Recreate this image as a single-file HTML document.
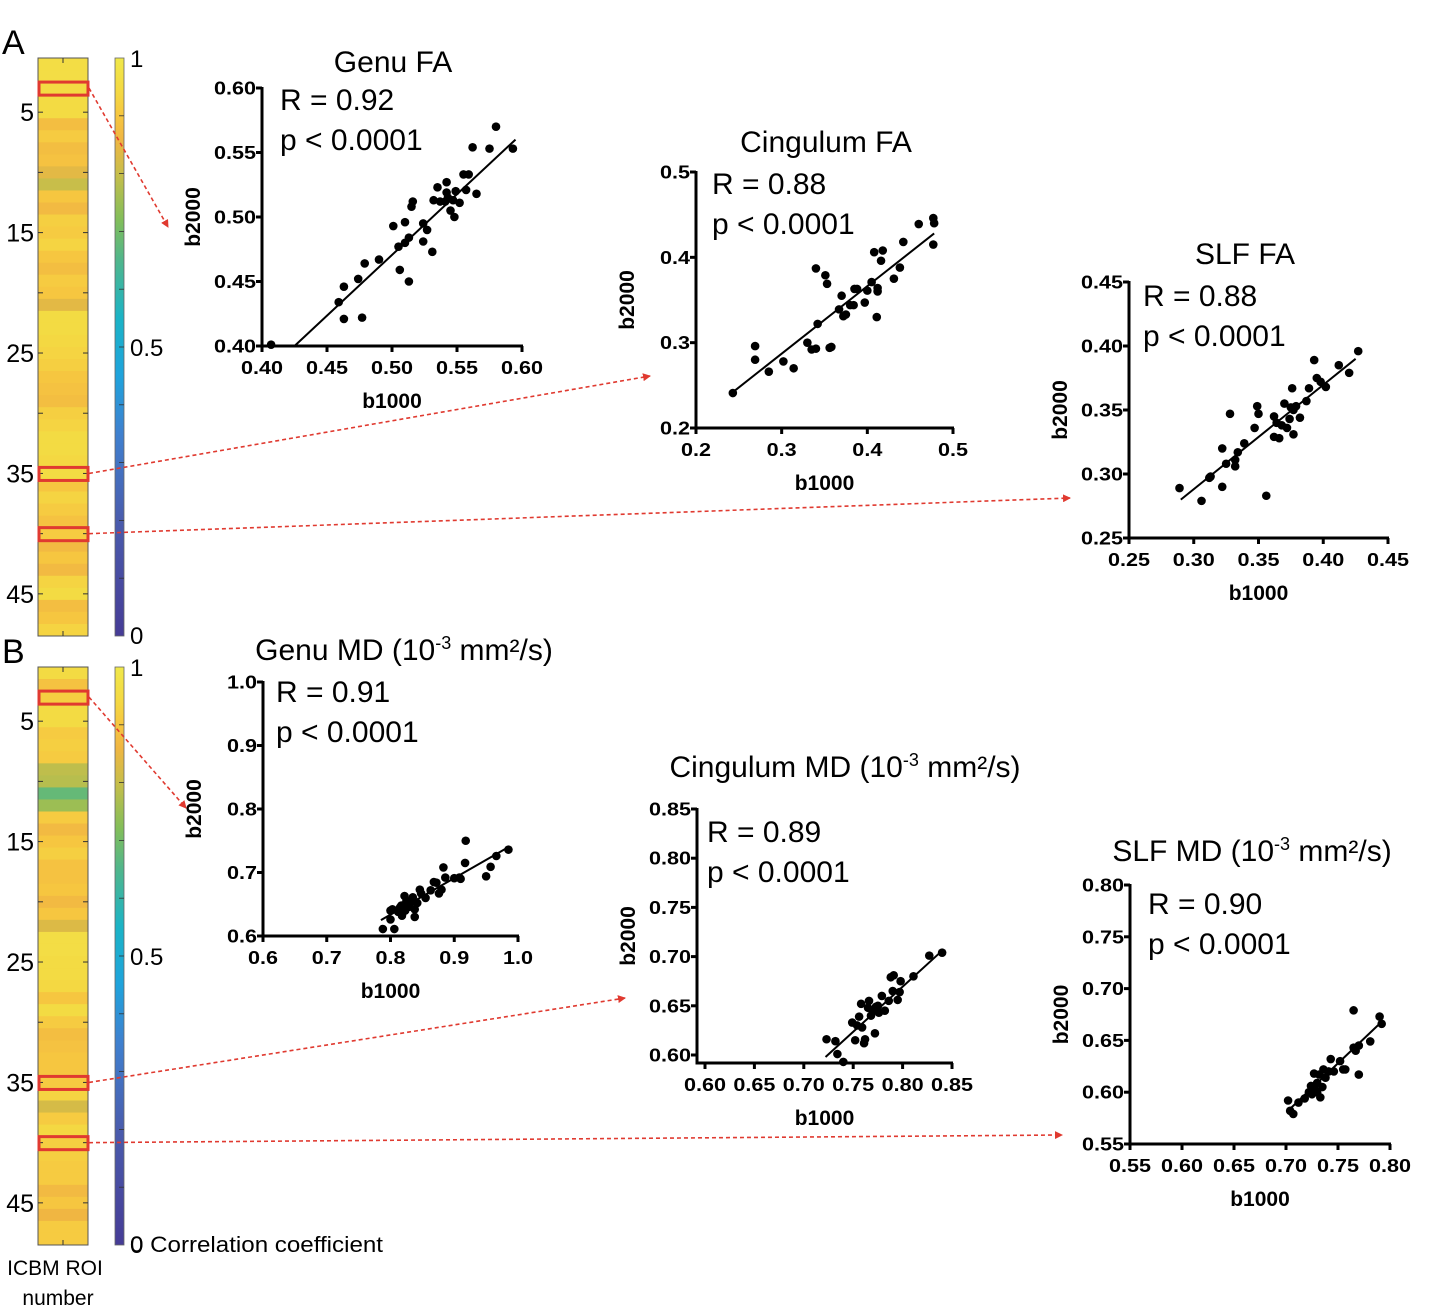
<!DOCTYPE html>
<html><head><meta charset="utf-8"><style>
html,body{margin:0;padding:0;background:#fff;}
svg{display:block;font-family:"Liberation Sans",sans-serif;}
</style></head><body>
<svg id="fig" width="1438" height="1312" viewBox="0 0 1438 1312" xmlns="http://www.w3.org/2000/svg"></svg>
<script>
// ---- heatmap data (correlation coefficient per ICBM ROI) ----
const roiA = [0.96,0.96,0.95,0.95,0.95,0.88,0.91,0.88,0.89,0.84,0.80,0.90,0.87,0.92,0.91,0.93,0.90,0.88,0.91,0.90,0.84,0.95,0.95,0.94,0.93,0.92,0.90,0.89,0.88,0.92,0.93,0.95,0.95,0.94,0.95,0.90,0.93,0.91,0.89,0.91,0.87,0.90,0.87,0.93,0.95,0.88,0.90,0.93];
const roiB = [0.95,0.89,0.92,0.95,0.95,0.91,0.92,0.91,0.79,0.78,0.68,0.75,0.91,0.87,0.90,0.92,0.89,0.89,0.90,0.87,0.90,0.83,0.96,0.96,0.95,0.95,0.94,0.90,0.95,0.91,0.88,0.89,0.90,0.90,0.91,0.93,0.82,0.91,0.94,0.92,0.92,0.91,0.91,0.87,0.90,0.86,0.91,0.91];
const roiTickLabels = ["5","15","25","35","45"];
const cbarTickLabels = ["1","0.5","0"];

// ---- scatter data ----
const genuFAx = [0.407,0.459,0.463,0.463,0.474,0.477,0.479,0.490,0.501,0.505,0.506,0.510,0.510,0.513,0.513,0.515,0.516,0.524,0.524,0.527,0.531,0.532,0.535,0.537,0.541,0.542,0.542,0.543,0.545,0.547,0.548,0.549,0.552,0.555,0.557,0.559,0.562,0.565,0.575,0.580,0.593];
const genuFAy = [0.401,0.434,0.446,0.421,0.452,0.422,0.464,0.467,0.493,0.477,0.459,0.496,0.480,0.484,0.450,0.508,0.512,0.495,0.481,0.490,0.473,0.513,0.523,0.512,0.512,0.527,0.519,0.515,0.505,0.513,0.500,0.520,0.511,0.533,0.521,0.533,0.554,0.518,0.553,0.570,0.553];
const cingFAx = [0.243,0.269,0.269,0.285,0.302,0.314,0.330,0.335,0.340,0.340,0.342,0.351,0.353,0.356,0.358,0.370,0.372,0.375,0.367,0.380,0.384,0.385,0.388,0.397,0.400,0.405,0.408,0.411,0.412,0.412,0.416,0.418,0.431,0.438,0.442,0.460,0.477,0.478,0.477];
const cingFAy = [0.241,0.296,0.280,0.266,0.278,0.270,0.300,0.292,0.293,0.387,0.322,0.379,0.369,0.294,0.295,0.355,0.331,0.333,0.339,0.344,0.344,0.363,0.363,0.347,0.361,0.371,0.406,0.330,0.360,0.364,0.396,0.408,0.375,0.388,0.418,0.439,0.446,0.440,0.415];
const slfFAx = [0.289,0.306,0.312,0.313,0.322,0.322,0.325,0.328,0.332,0.332,0.334,0.339,0.347,0.349,0.350,0.356,0.362,0.362,0.364,0.366,0.368,0.370,0.372,0.374,0.375,0.376,0.377,0.377,0.379,0.382,0.387,0.389,0.393,0.395,0.398,0.402,0.412,0.420,0.427];
const slfFAy = [0.289,0.279,0.297,0.298,0.320,0.290,0.308,0.347,0.311,0.306,0.317,0.324,0.336,0.353,0.347,0.283,0.345,0.329,0.340,0.328,0.338,0.355,0.336,0.343,0.352,0.367,0.331,0.350,0.353,0.344,0.357,0.367,0.389,0.375,0.372,0.368,0.385,0.379,0.396];
const genuMDx = [0.788,0.800,0.800,0.803,0.806,0.812,0.817,0.818,0.822,0.823,0.825,0.829,0.835,0.838,0.838,0.846,0.848,0.855,0.868,0.872,0.876,0.880,0.883,0.886,0.900,0.908,0.910,0.917,0.918,0.950,0.957,0.966,0.985,0.830,0.815,0.842,0.863];
const genuMDy = [0.611,0.626,0.640,0.642,0.611,0.638,0.648,0.632,0.663,0.640,0.655,0.646,0.661,0.630,0.642,0.673,0.667,0.660,0.685,0.684,0.667,0.673,0.708,0.692,0.691,0.692,0.690,0.715,0.750,0.694,0.709,0.726,0.736,0.650,0.645,0.652,0.672];
const cingMDx = [0.723,0.732,0.734,0.740,0.749,0.752,0.754,0.756,0.758,0.759,0.761,0.762,0.766,0.768,0.770,0.772,0.773,0.776,0.779,0.782,0.786,0.788,0.790,0.791,0.795,0.797,0.798,0.811,0.827,0.840,0.775,0.765];
const cingMDy = [0.616,0.614,0.601,0.593,0.633,0.615,0.630,0.639,0.652,0.628,0.612,0.616,0.655,0.640,0.645,0.622,0.649,0.643,0.660,0.645,0.655,0.679,0.665,0.681,0.656,0.664,0.675,0.680,0.701,0.704,0.650,0.648];
const slfMDx = [0.702,0.704,0.707,0.712,0.718,0.722,0.724,0.727,0.728,0.730,0.732,0.733,0.735,0.736,0.738,0.741,0.743,0.746,0.752,0.755,0.757,0.765,0.765,0.767,0.770,0.770,0.781,0.790,0.792,0.730,0.725];
const slfMDy = [0.592,0.582,0.579,0.590,0.594,0.600,0.606,0.618,0.602,0.609,0.617,0.595,0.605,0.622,0.614,0.620,0.632,0.620,0.630,0.622,0.622,0.679,0.643,0.640,0.617,0.645,0.649,0.673,0.666,0.600,0.598];
// fit-line endpoints [x0,y0,x1,y1]
const genuFAfit = [0.425,0.40,0.595,0.56];
const cingFAfit = [0.243,0.242,0.478,0.428];
const slfFAfit = [0.29,0.28,0.425,0.39];
const genuMDfit = [0.785,0.625,0.985,0.74];
const cingMDfit = [0.722,0.598,0.84,0.706];
const slfMDfit = [0.705,0.585,0.792,0.668];
const genuFAxt=["0.40","0.45","0.50","0.55","0.60"], genuFAyt=["0.40","0.45","0.50","0.55","0.60"];
const cingFAxt=["0.2","0.3","0.4","0.5"], cingFAyt=["0.2","0.3","0.4","0.5"];
const slfFAxt=["0.25","0.30","0.35","0.40","0.45"], slfFAyt=["0.25","0.30","0.35","0.40","0.45"];
const genuMDxt=["0.6","0.7","0.8","0.9","1.0"], genuMDyt=["0.6","0.7","0.8","0.9","1.0"];
const cingMDxt=["0.60","0.65","0.70","0.75","0.80","0.85"], cingMDyt=["0.60","0.65","0.70","0.75","0.80","0.85"];
const slfMDxt=["0.55","0.60","0.65","0.70","0.75","0.80"], slfMDyt=["0.55","0.60","0.65","0.70","0.75","0.80"];

const NS="http://www.w3.org/2000/svg";
const svg=document.getElementById('fig');
function el(tag,attrs,parent,text){const e=document.createElementNS(NS,tag);for(const k in attrs)e.setAttribute(k,attrs[k]);if(text!==undefined)e.textContent=text;(parent||svg).appendChild(e);return e;}

const stops=[[0,[70,60,150]],[0.2,[74,92,173]],[0.35,[63,128,207]],[0.45,[31,163,220]],[0.55,[27,179,198]],[0.65,[80,182,140]],[0.72,[130,190,90]],[0.8,[200,190,74]],[0.86,[240,182,66]],[0.9,[246,198,64]],[0.94,[244,216,66]],[1,[240,232,74]]];
function cmap(v){for(let i=1;i<stops.length;i++){if(v<=stops[i][0]){const a=stops[i-1],b=stops[i],t=(v-a[0])/(b[0]-a[0]);return 'rgb('+a[1].map((c,j)=>Math.round(c+(b[1][j]-c)*t)).join(',')+')';}}return 'rgb(240,232,74)';}

const defs=el('defs',{});
const lg=el('linearGradient',{id:'cb',x1:0,y1:1,x2:0,y2:0},defs);
stops.forEach(s=>el('stop',{offset:s[0],'stop-color':cmap(s[0])},lg));
const mk=el('marker',{id:'ah',markerWidth:8,markerHeight:8,refX:7,refY:4,orient:'auto',markerUnits:'userSpaceOnUse'},defs);
el('path',{d:'M0,0 L8,4 L0,8 z',fill:'#e03a30'},mk);

function panel(letter,top,vals,boxRows,arrowTargets,name){
  const g=el('g',{});
  
  
  const x0=38,w=50,h=578,n=vals.length,rh=h/n;
  const L=el('text',{x:2,y:top-4,'font-size':34},g,letter);
  
  
  vals.forEach((v,i)=>{const r=el('rect',{x:x0,y:top+i*rh,width:w,height:rh+0.5,fill:cmap(v)},g);
    
    });
  el('rect',{x:x0,y:top,width:w,height:h,fill:'none',stroke:'#555','stroke-width':1},g);
  roiTickLabels.forEach(t=>{const row=+t;const y=top+(row-0.5)*rh;
    const tx=el('text',{x:34,y:y+9,'font-size':25,'text-anchor':'end'},g,t);
    
    
    el('line',{x1:x0,x2:x0+5,y1:y,y2:y,stroke:'#333'},g);el('line',{x1:x0+w,x2:x0+w-5,y1:y,y2:y,stroke:'#333'},g);});
  [10,20,30,40].forEach(r=>{const y=top+(r-0.5)*rh;el('line',{x1:x0,x2:x0+5,y1:y,y2:y,stroke:'#333'},g);el('line',{x1:x0+w,x2:x0+w-5,y1:y,y2:y,stroke:'#333'},g);});
  el('line',{x1:63,x2:63,y1:top,y2:top+5,stroke:'#333'},g);el('line',{x1:63,x2:63,y1:top+h,y2:top+h-5,stroke:'#333'},g);
  const cb=el('rect',{x:115,y:top,width:9,height:h,fill:'url(#cb)',stroke:'#666','stroke-width':0.8},g);
  
  
  for(let k=1;k<10;k++){const y=top+h*k/10;el('line',{x1:119,x2:124,y1:y,y2:y,stroke:'#333','stroke-width':0.8},g);}
  cbarTickLabels.forEach((t,k)=>{const y=top+h*k/2;const tx=el('text',{x:130,y:y+(k==2?8:9),'font-size':24},g,t);
    
    });
  boxRows.forEach((r,i)=>{const y=top+(r-1)*rh;
    const b=el('rect',{x:39,y:y,width:49,height:rh+1,fill:'none',stroke:'#e03a30','stroke-width':3},g);
    
    
    const t=arrowTargets[i];const sy=y+rh/2;
    const a=el('line',{x1:89,y1:sy,x2:t[0],y2:t[1],stroke:'#e03a30','stroke-width':1.6,'stroke-dasharray':'4,3','marker-end':'url(#ah)'},g);
    
    });
}
panel('A',58,roiA,[3,35,40],[[168,227],[650,376],[1070,498]],'heatmap-panel-a');
panel('B',667,roiB,[3,35,40],[[186,808],[625,998],[1062,1135]],'heatmap-panel-b');

function lab(x,y,size,txt,name,extra){const t=el('text',Object.assign({x:x,y:y,'font-size':size},extra||{}),svg,txt);
  
  return t;}
lab(130,1252,22,'0 Correlation coefficient','colorbar-title',{textLength:253,lengthAdjust:'spacingAndGlyphs'});
lab(55,1275,21,'ICBM ROI','roi-axis-title',{'text-anchor':'middle'});
lab(58,1305,21,'number','roi-axis-title-2',{'text-anchor':'middle'});

function tw(s,fs){let w=0;for(const c of s)w+=(c=='.'?0.278:0.556);return w*fs;}

function scatter(o){
  const g=el('g',{});
  
  
  const sx=v=>o.ax+(v-o.xd[0])/(o.xd[1]-o.xd[0])*(o.axr-o.ax);
  const sy=v=>o.yb+(v-o.yd[0])/(o.yd[1]-o.yd[0])*(o.yt-o.yb);
  const axY=o.axisY||o.yb, axX=o.axisX||o.ax;
  const tt=el('text',{x:o.tx,y:o.ty,'font-size':30,'text-anchor':'middle'},g);
  
  
  if(o.md){el('tspan',{},tt,o.title+' (10');el('tspan',{dy:-11,'font-size':18},tt,'-3');el('tspan',{dy:11},tt,' mm²/s)');}
  else tt.textContent=o.title;
  const r1=el('text',{x:o.rx,y:o.ry,'font-size':30},g,'R = '+o.R);
  
  
  const p1=el('text',{x:o.rx,y:o.ry+40,'font-size':30},g,'p < 0.0001');
  
  
  const ya=el('line',{x1:axX,x2:axX,y1:o.yt-1,y2:axY+1.5,stroke:'#000','stroke-width':3},g);
  
  
  const xa=el('line',{x1:axX-1.5,x2:o.axr+1,y1:axY,y2:axY,stroke:'#000','stroke-width':3},g);
  
  
  const fs=18;
  o.yt_.forEach(t=>{const y=sy(+t);el('line',{x1:axX-6,x2:axX,y1:y,y2:y,stroke:'#000','stroke-width':3},g);
    const tx=el('text',{x:axX-6,y:y+6.5,'font-size':fs,'font-weight':'bold','text-anchor':'end',textLength:tw(t,fs)*1.2,lengthAdjust:'spacingAndGlyphs'},g,t);
    
    });
  o.xt_.forEach(t=>{const x=sx(+t);el('line',{x1:x,x2:x,y1:axY,y2:axY+6,stroke:'#000','stroke-width':3},g);
    const tx=el('text',{x:x,y:axY+28,'font-size':fs,'font-weight':'bold','text-anchor':'middle',textLength:tw(t,fs)*1.2,lengthAdjust:'spacingAndGlyphs'},g,t);
    
    });
  const xl=el('text',{x:(axX+o.axr)/2,y:axY+62,'font-size':21,'font-weight':'bold','text-anchor':'middle'},g,'b1000');
  
  
  const yc=(o.yt+axY)/2;
  const yl=el('text',{x:axX-62,y:yc,'font-size':21,'font-weight':'bold','text-anchor':'middle',transform:'rotate(-90 '+(axX-62)+' '+yc+')'},g,'b2000');
  
  
  const f=o.fit;
  const fl=el('line',{x1:sx(f[0]),y1:sy(f[1]),x2:sx(f[2]),y2:sy(f[3]),stroke:'#000','stroke-width':2},g);
  
  
  o.xs.forEach((v,i)=>{const c=el('circle',{cx:sx(v),cy:sy(o.ys[i]),r:4.3,fill:'#000'},g);
    
    });
}
scatter({name:'genu-fa-plot',title:'Genu FA',tx:393,ty:72,rx:280,ry:110,R:'0.92',ax:262,axr:522,yb:346,yt:88,xd:[0.40,0.60],yd:[0.40,0.60],xs:genuFAx,ys:genuFAy,fit:genuFAfit,xt_:genuFAxt,yt_:genuFAyt});
scatter({name:'cingulum-fa-plot',title:'Cingulum FA',tx:826,ty:152,rx:712,ry:194,R:'0.88',ax:696,axr:953,yb:428,yt:172,xd:[0.2,0.5],yd:[0.2,0.5],xs:cingFAx,ys:cingFAy,fit:cingFAfit,xt_:cingFAxt,yt_:cingFAyt});
scatter({name:'slf-fa-plot',title:'SLF FA',tx:1245,ty:264,rx:1143,ry:306,R:'0.88',ax:1129,axr:1388,yb:538,yt:282,xd:[0.25,0.45],yd:[0.25,0.45],xs:slfFAx,ys:slfFAy,fit:slfFAfit,xt_:slfFAxt,yt_:slfFAyt});
scatter({name:'genu-md-plot',md:true,title:'Genu MD',tx:404,ty:660,rx:276,ry:702,R:'0.91',ax:263,axr:518,yb:936,yt:682,xd:[0.6,1.0],yd:[0.6,1.0],xs:genuMDx,ys:genuMDy,fit:genuMDfit,xt_:genuMDxt,yt_:genuMDyt});
scatter({name:'cingulum-md-plot',md:true,title:'Cingulum MD',tx:845,ty:777,rx:707,ry:842,R:'0.89',ax:705,axr:952,axisX:697,axisY:1063,yb:1055,yt:809,xd:[0.60,0.85],yd:[0.60,0.85],xs:cingMDx,ys:cingMDy,fit:cingMDfit,xt_:cingMDxt,yt_:cingMDyt});
scatter({name:'slf-md-plot',md:true,title:'SLF MD',tx:1252,ty:861,rx:1148,ry:914,R:'0.90',ax:1130,axr:1390,yb:1144,yt:885,xd:[0.55,0.80],yd:[0.55,0.80],xs:slfMDx,ys:slfMDy,fit:slfMDfit,xt_:slfMDxt,yt_:slfMDyt});
</script>
</body></html>
